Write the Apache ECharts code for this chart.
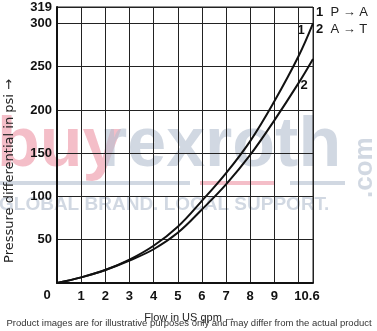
<!DOCTYPE html>
<html><head><meta charset="utf-8">
<script src="https://cdn.jsdelivr.net/npm/echarts@6/dist/echarts.min.js"></script>
<style>html,body{margin:0;padding:0;background:#fff}#c{width:377px;height:331px}</style>
</head><body><div id="c"></div>
<script>
// Flow in US gpm
const flow = [0, 1, 2, 3, 4, 5, 6, 7, 8, 9, 10, 10.6];
// Curve 1: P -> A (psi)
const curvePA = [0, 6.5, 15, 27, 43, 65, 95, 127, 164, 210, 262, 300];
// Curve 2: A -> T (psi)
const curveAT = [0, 6.5, 15, 26, 39, 58, 85, 114, 148, 188, 231, 259];
const xMax = 10.6, yMax = 319;
const xTitle = 'Flow in US gpm →';
const yTitle = 'Pressure differential in psi →';
const legendItems = [['1', 'P → A'], ['2', 'A → T']];

const pair = (xs, ys) => xs.map((x, i) => [x, ys[i]]);
const F = '"Liberation Sans", Arial, sans-serif';
const D = '"DejaVu Sans", sans-serif';
const grey = 'rgba(180,192,208,0.62)';
const pink = 'rgba(238,150,166,0.62)';
const chart = echarts.init(document.getElementById('c'));
chart.setOption({
  animation: false,
  backgroundColor: '#fff',
  grid: { left: 57, right: 64, top: 7, bottom: 48, show: true, borderColor: '#222', borderWidth: 1 },
  xAxis: {
    type: 'value', min: 0, max: xMax, interval: 1,
    axisLine: { show: true, lineStyle: { color: '#111', width: 2 } },
    axisTick: { show: false },
    splitLine: { show: true, lineStyle: { color: '#222', width: 1 } },
    axisLabel: {
      margin: 7, color: '#111', fontFamily: F, fontWeight: 'bold', fontSize: 13,
      formatter: v => (v === 0 || v === 10) ? '' : (v === xMax ? '{e|10.6}' : String(v)),
      rich: { e: { padding: [0, 12, 0, 0], color: '#111', fontFamily: F, fontWeight: 'bold', fontSize: 13 } }
    }
  },
  yAxis: {
    type: 'value', min: 0, max: yMax, interval: 50,
    axisLine: { show: true, lineStyle: { color: '#111', width: 2 } },
    axisTick: { show: false },
    splitLine: { show: true, lineStyle: { color: '#222', width: 1 } },
    axisLabel: {
      margin: 5, color: '#111', fontFamily: F, fontWeight: 'bold', fontSize: 13,
      formatter: v => v === 0 ? '' : String(v)
    }
  },
  series: [
    { type: 'line', data: pair(flow, curvePA), smooth: 0.4, showSymbol: false, z: 5,
      lineStyle: { color: '#111', width: 2 } },
    { type: 'line', data: pair(flow, curveAT), smooth: 0.4, showSymbol: false, z: 5,
      lineStyle: { color: '#111', width: 2 } }
  ],
  graphic: [
    // watermark
    { type: 'text', left: -3, top: 112, z: -5, silent: true,
      style: { text: 'buy', fill: pink, font: 'bold 70px ' + F } },
    { type: 'text', left: 100, top: 112, z: -5, silent: true,
      style: { text: 'rexroth', fill: grey, font: 'bold 70px ' + F } },
    { type: 'text', x: 352, y: 198, rotation: Math.PI / 2, z: -5, silent: true,
      style: { text: '.com', fill: grey, font: 'bold 26px ' + F, textVerticalAlign: 'top' } },
    { type: 'rect', shape: { x: 0, y: 181, width: 190, height: 4 }, z: -5, silent: true, style: { fill: grey } },
    { type: 'rect', shape: { x: 200, y: 181, width: 75, height: 4 }, z: -5, silent: true, style: { fill: pink } },
    { type: 'rect', shape: { x: 290, y: 181, width: 55, height: 4 }, z: -5, silent: true, style: { fill: grey } },
    { type: 'text', left: -1, top: 195, z: -5, silent: true,
      style: { text: 'GLOBAL BRAND. LOCAL SUPPORT.', fill: grey, font: 'bold 19px ' + F } },
    // origin label
    { type: 'text', x: 47, y: 295, style: { text: '0', fill: '#111', font: 'bold 13px ' + F, textAlign: 'center', textVerticalAlign: 'middle' } },
    // axis titles
    { type: 'text', x: 10, y: 171, rotation: Math.PI / 2,
      style: { text: yTitle, fill: '#222', font: '13px ' + D, textAlign: 'center', textVerticalAlign: 'middle' } },
    { type: 'text', x: 190, y: 318,
      style: { text: xTitle, fill: '#222', font: '11px ' + F, textAlign: 'center', textVerticalAlign: 'middle' } },
    // disclaimer
    { type: 'text', x: 189, y: 323,
      style: { text: 'Product images are for illustrative purposes only and may differ from the actual product', fill: '#333', font: '9.5px ' + F, textAlign: 'center', textVerticalAlign: 'middle' } },
    // curve labels
    { type: 'text', x: 301, y: 30, style: { text: '1', fill: '#111', font: 'bold 13px ' + F, textAlign: 'center', textVerticalAlign: 'middle' } },
    { type: 'text', x: 304, y: 85, style: { text: '2', fill: '#111', font: 'bold 13px ' + F, textAlign: 'center', textVerticalAlign: 'middle' } },
    // legend
    { type: 'text', x: 316, y: 12, style: { text: '{b|' + legendItems[0][0] + '}  ' + legendItems[0][1], rich: { b: { font: 'bold 13px ' + F, fill: '#111' } }, fill: '#222', font: '13px ' + F, textVerticalAlign: 'middle' } },
    { type: 'text', x: 316, y: 29, style: { text: '{b|' + legendItems[1][0] + '}  ' + legendItems[1][1], rich: { b: { font: 'bold 13px ' + F, fill: '#111' } }, fill: '#222', font: '13px ' + F, textVerticalAlign: 'middle' } }
  ]
});
</script></body></html>
